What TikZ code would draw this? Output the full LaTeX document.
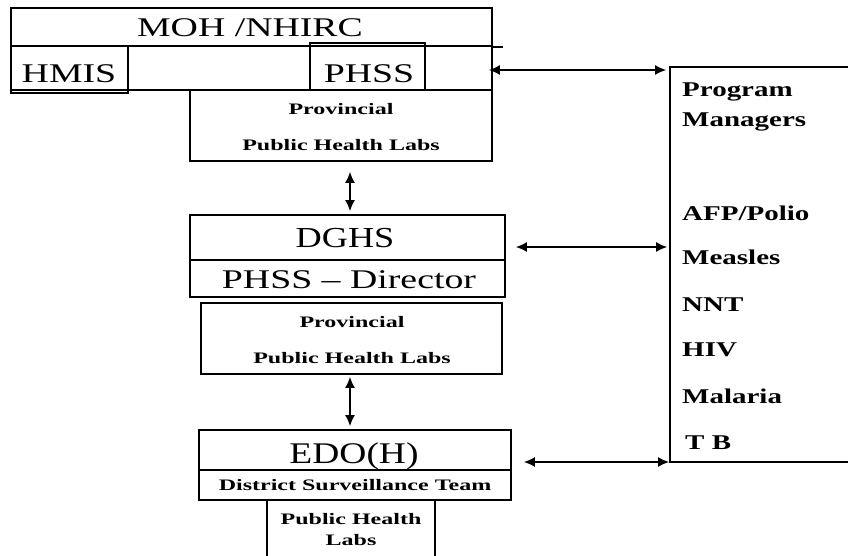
\documentclass[tikz,border=0pt]{standalone}
\usepackage{fontspec}
\setmainfont{Liberation Serif}
\newfontfamily\bigwide[FakeStretch=1.4]{Liberation Serif}
\newfontfamily\bignarrow[FakeStretch=1.25]{Liberation Serif}
\newfontfamily\smallwide[FakeStretch=1.5]{Liberation Serif}
\newfontfamily\rightwide[FakeStretch=1.38]{Liberation Serif}
\usetikzlibrary{arrows.meta}
\begin{document}
\begin{tikzpicture}[x=1pt,y=-1pt,
  box/.style={draw,line width=1.8pt,inner sep=0pt},
  arr/.style={line width=1.4pt,{Latex[length=11pt,width=10pt]}-{Latex[length=11pt,width=10pt]}},
  bigA/.style={anchor=base,inner sep=0pt,font=\bigwide\fontsize{27}{27}\selectfont},
  bigB/.style={anchor=base,inner sep=0pt,font=\bignarrow\fontsize{29}{29}\selectfont},
  smalltxt/.style={anchor=base,inner sep=0pt,font=\smallwide\bfseries\fontsize{16}{16}\selectfont},
  pmtxt/.style={anchor=base west,inner sep=0pt,font=\rightwide\bfseries\fontsize{21}{21}\selectfont}]
\clip (0,0) rectangle (848,556);
\fill[white] (0,0) rectangle (848,556);
% boxes
\node[box,minimum width=481pt,minimum height=38pt] (moh) at (251.5,27) {};
\node[box,minimum width=481pt,minimum height=44pt] (row) at (251.5,68) {};
\node[box,minimum width=117pt,minimum height=47pt] (hmis) at (69.5,69.5) {};
\node[box,minimum width=115pt,minimum height=47pt] (phss) at (367.5,66.5) {};
\node[box,minimum width=302pt,minimum height=71pt] (prov1) at (341,125.5) {};
\node[box,minimum width=315pt,minimum height=45pt] (dghs) at (347.5,237.5) {};
\node[box,minimum width=315pt,minimum height=37pt] (dir) at (347.5,278.5) {};
\node[box,minimum width=301pt,minimum height=71pt] (prov2) at (351.5,338.5) {};
\node[box,minimum width=312pt,minimum height=40pt] (edo) at (355,450) {};
\node[box,minimum width=312pt,minimum height=30pt] (dst) at (355,485) {};
\node[box,minimum width=168pt,minimum height=80pt] (phl) at (351,540) {};
\node[box,minimum width=200pt,minimum height=395pt] (pm) at (770,264.5) {};
\draw[line width=1.8pt] (moh.south east) -- ++(10,0);
% texts
\node[bigA] (tmoh) at (250,37) {MOH /NHIRC};
\node[bigA] (thmis) at (69,83) {HMIS};
\node[bigA] (tphss) at (369,83) {PHSS};
\node[smalltxt] (tprov1a) at (341,115) {Provincial};
\node[smalltxt] (tprov1b) at (341,151) {Public Health Labs};
\node[bigB] (tdghs) at (345,247) {DGHS};
\node[bigA] (tdir) at (349,288) {PHSS – Director};
\node[smalltxt] (tprov2a) at (352,327) {Provincial};
\node[smalltxt] (tprov2b) at (352,363) {Public Health Labs};
\node[bigB,font=\bignarrow\fontsize{30}{30}\selectfont] (tedo) at (354,463) {EDO(H)};
\node[smalltxt] (tdst) at (355,490) {District Surveillance Team};
\node[smalltxt] (tphla) at (351,524) {Public Health};
\node[smalltxt] (tphlb) at (351,545) {Labs};
\node[pmtxt] (p1) at (682,97) {Program};
\node[pmtxt] (p2) at (682,127) {Managers};
\node[pmtxt] (p3) at (682,220) {AFP/Polio};
\node[pmtxt] (p4) at (682,264) {Measles};
\node[pmtxt] (p5) at (682,311) {NNT};
\node[pmtxt] (p6) at (682,356) {HIV};
\node[pmtxt] (p7) at (682,403) {Malaria};
\node[pmtxt] (p8) at (685,449) {T B};
% connectors
\coordinate (v) at (350,0);
\draw[arr,shorten <=10pt,shorten >=3pt] (prov1.south -| v) -- (dghs.north -| v);
\draw[arr,shorten <=2pt,shorten >=3pt] (prov2.south -| v) -- (edo.north -| v);
\coordinate (a1) at ([xshift=-4pt,yshift=-2pt]row.east);
\draw[arr,shorten >=3pt] (a1) -- (a1 -| pm.west);
\coordinate (a2) at ([xshift=10pt,yshift=-9.5pt]dghs.east);
\draw[arr,shorten >=2pt] (a2) -- (a2 -| pm.west);
\coordinate (a3) at ([xshift=12pt,yshift=-12pt]edo.east);
\draw[arr] (a3) -- (a3 -| pm.west);
\end{tikzpicture}
\end{document}
